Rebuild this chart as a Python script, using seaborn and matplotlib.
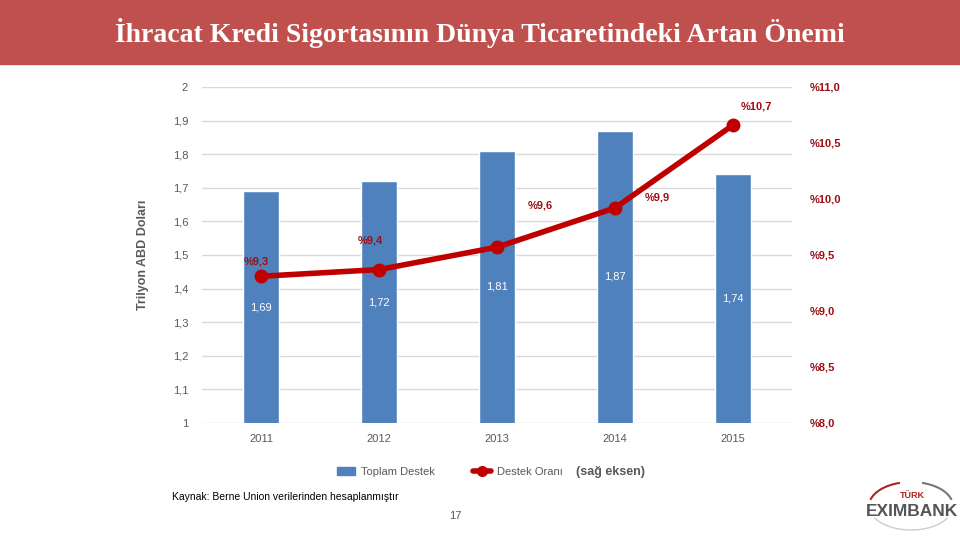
import matplotlib
matplotlib.use("Agg")
import matplotlib.pyplot as plt
import matplotlib.patches as mpatches
from matplotlib.lines import Line2D
import seaborn as sns
import pandas as pd

# data
years = ["2011", "2012", "2013", "2014", "2015"]
toplam_destek = [1.69, 1.72, 1.81, 1.87, 1.74]       # trilyon ABD doları
destek_orani = [9.31, 9.37, 9.57, 9.92, 10.66]       # %, right axis
left_ticks = [1, 1.1, 1.2, 1.3, 1.4, 1.5, 1.6, 1.7, 1.8, 1.9, 2]
right_ticks = [8.0, 8.5, 9.0, 9.5, 10.0, 10.5, 11.0]

BLUE = "#4F81BD"
RED = "#C00000"
DARKRED = "#9C0E14"
GRAY = "#595959"

df = pd.DataFrame({"Yil": years, "Toplam": toplam_destek, "Oran": destek_orani})

sns.set_theme(style="white")
plt.rcParams["font.family"] = ["Liberation Sans", "DejaVu Sans"]

fig = plt.figure(figsize=(9.6, 5.4), dpi=100)

# red title banner
fig.patches.append(mpatches.Rectangle((0, 1 - 64 / 540), 1, 64 / 540, transform=fig.transFigure,
                                      color="#C0504D", zorder=0))
fig.text(0.5, 1 - 33 / 540, "İhracat Kredi Sigortasının Dünya Ticaretindeki Artan Önemi",
         ha="center", va="center", color="white", fontsize=20, fontweight="bold",
         family=["Liberation Serif", "DejaVu Serif"])

ax = fig.add_axes([202 / 960, 1 - 423 / 540, 590 / 960, 336 / 540])
sns.barplot(data=df, x="Yil", y="Toplam", ax=ax, color=BLUE, width=0.31, saturation=1, zorder=2)
ax.set_ylim(1, 2)
ax.set_yticks(left_ticks)
ax.set_yticklabels([f"{v:g}".replace(".", ",") for v in left_ticks], color=GRAY, fontsize=8)
ax.yaxis.grid(True, color="#D9D9D9", lw=1)
ax.set_axisbelow(True)
for s in ax.spines.values():
    s.set_visible(False)
ax.tick_params(axis="y", length=0, pad=10)
ax.tick_params(axis="x", length=0, pad=8, labelsize=8, labelcolor=GRAY)
ax.set_xlabel("")
ax.set_ylabel("Trilyon ABD Doları", color=GRAY, fontsize=9, fontweight="bold", labelpad=17)

for i, v in enumerate(toplam_destek):
    ax.text(i, 1 + (v - 1) / 2, f"{v:.2f}".replace(".", ","), ha="center", va="center",
            color="white", fontsize=8)

ax2 = ax.twinx()
sns.pointplot(data=df, x="Yil", y="Oran", ax=ax2, color=RED, markers="o",
              markersize=7, linewidth=4)
ax2.set_ylim(8, 11)
ax2.set_xlim(-0.5, 4.5)
ax2.set_yticks(right_ticks)
ax2.set_yticklabels([f"%{v:.1f}".replace(".", ",") for v in right_ticks], color=DARKRED,
                    fontsize=8, fontweight="bold")
ax2.tick_params(axis="y", length=0, pad=13)
ax2.set_ylabel("")
ax2.set_xlabel("")
for s in ax2.spines.values():
    s.set_visible(False)

# line labels
offsets = [(-0.04, 0.13), (-0.07, 0.26), (0.37, 0.37), (0.36, 0.09), (0.2, 0.17)]
for i, (v, (dx, dy)) in enumerate(zip(destek_orani, offsets)):
    ax2.text(i + dx, v + dy, f"%{v:.1f}".replace(".", ","), ha="center", va="center",
             color=DARKRED, fontsize=8, fontweight="bold")

# legend
handles = [mpatches.Patch(color=BLUE, label="Toplam Destek"),
           Line2D([0], [0], color=RED, lw=4, marker="o", markersize=7, label="Destek Oranı")]
fig.legend(handles=handles, loc="center", bbox_to_anchor=(450 / 960, 1 - 472 / 540), ncol=2,
           frameon=False, fontsize=8, labelcolor=GRAY, handlelength=1.6, columnspacing=3.5,
           handletextpad=0.5)
fig.text(576 / 960, 1 - 472 / 540, "(sağ eksen)", ha="left", va="center", color=GRAY,
         fontsize=9, fontweight="bold")

fig.text(172 / 960, 1 - 497 / 540, "Kaynak: Berne Union verilerinden hesaplanmıştır",
         ha="left", va="center", color="black", fontsize=7.5)
fig.text(455 / 960, 1 - 516 / 540, "17", ha="center", va="center", color=GRAY, fontsize=8)

# logo
center = (911 / 960, 1 - 506 / 540)
fig.patches.append(mpatches.Arc(center, 84 / 960, 48 / 540, theta1=105, theta2=165,
                                transform=fig.transFigure, color="#B22222", lw=1.5))
fig.patches.append(mpatches.Arc(center, 84 / 960, 48 / 540, theta1=15, theta2=75,
                                transform=fig.transFigure, color="#777777", lw=1.5))
fig.patches.append(mpatches.Arc(center, 84 / 960, 48 / 540, theta1=210, theta2=330,
                                transform=fig.transFigure, color="#CCCCCC", lw=1))
fig.text(912 / 960, 1 - 495 / 540, "TÜRK", ha="center", va="center", color="#B22222",
         fontsize=6.5, fontweight="bold")
fig.text(912 / 960, 1 - 511 / 540, "EXIMBANK", ha="center", va="center", color="#555555",
         fontsize=12.5, fontweight="bold", family=["Liberation Sans Narrow", "Liberation Sans"])

fig.savefig("out.png", dpi=100)
